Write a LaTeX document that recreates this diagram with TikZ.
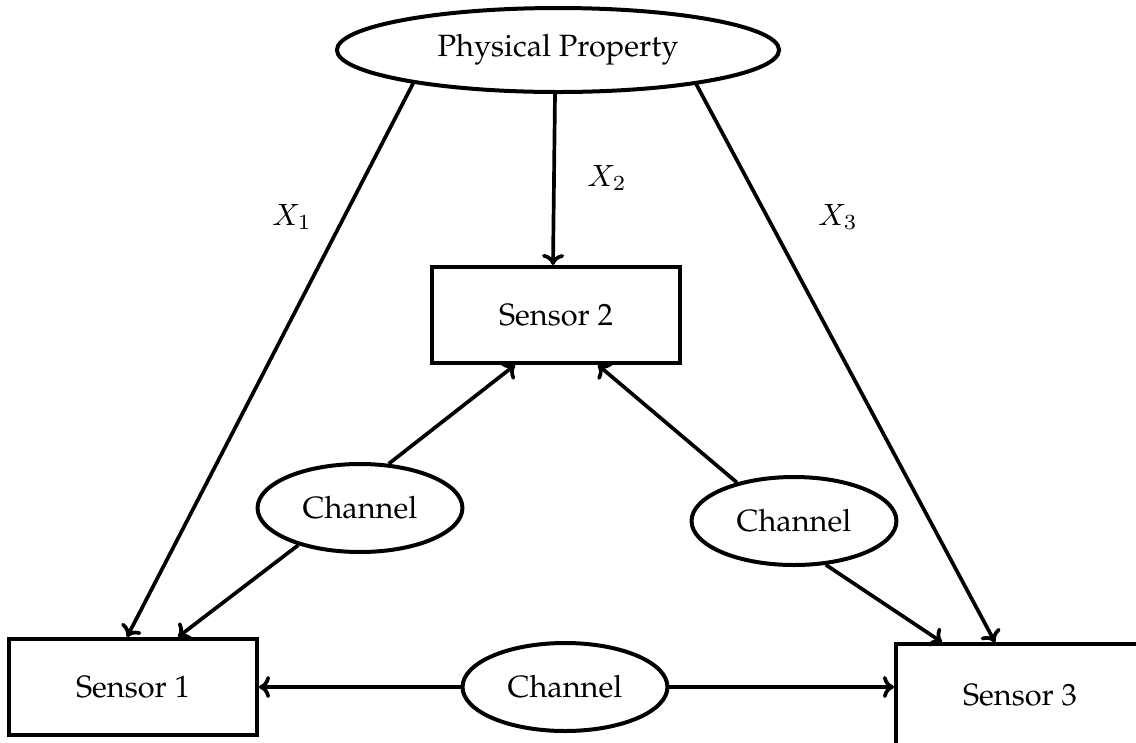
\documentclass[tikz,border=0pt]{standalone}
\usepackage[T1]{fontenc}
\renewcommand{\rmdefault}{ppl}
\usetikzlibrary{arrows.meta,shapes.geometric,calc}
\tikzset{
  sensorbox/.style={draw, line width=1.3pt, minimum width=80.6pt, minimum height=31.2pt, inner sep=0pt},
  propoval/.style={draw, ellipse, line width=1.3pt, minimum width=143.7pt, minimum height=27.3pt, inner sep=0pt},
  chanoval/.style={draw, ellipse, line width=1.3pt, minimum width=66.6pt, minimum height=28.6pt, inner sep=0pt},
  link/.style={line width=1.2pt, -{To[length=3.6pt,width=7.2pt]}},
}
\begin{document}
\begin{tikzpicture}[x=0.325pt, y=-0.325pt, font=\fontsize{10}{12}\selectfont]
\useasboundingbox (0,0) rectangle (1136,742);

% nodes
\node[propoval] (pp) at (558,50) {Physical Property};
\node[sensorbox] (s2) at (556,315) {Sensor 2};
\node[sensorbox] (s1) at (133,687) {Sensor 1};
\node[sensorbox, minimum height=33pt] (s3) at (1020,695) {Sensor 3};
\node[chanoval] (chL) at (360,508) {Channel};
\node[chanoval] (chR) at (794,521) {Channel};
\node[chanoval] (chB) at (565,687) {Channel};

% measurements from the physical property
\draw[link] (pp.193) -- ($(s1.north)+(-6,0)$);
\draw[link] ($(pp.south)+(-3,0)$) -- ($(s2.north)+(-3,0)$);
\draw[link] (pp.-14) -- ($(s3.north)+(-25,0)$);

\node at (292,217) {$X_1$};
\node at (607,178) {$X_2$};
\node at (838,217) {$X_3$};

% channels between sensors
\draw[link] (chL.57) -- ($(s2.south)+(-41,0)$);
\draw[link] (chL.211) -- ($(s1.north)+(45,0)$);
\draw[link] (chR.146) -- ($(s2.south)+(42,0)$);
\draw[link] (chR.-54) -- ($(s3.north)+(-78,0)$);
\draw[link] (chB.west) -- (chB.west -| s1.east);
\draw[link] (chB.east) -- (chB.east -| s3.west);
\end{tikzpicture}
\end{document}
